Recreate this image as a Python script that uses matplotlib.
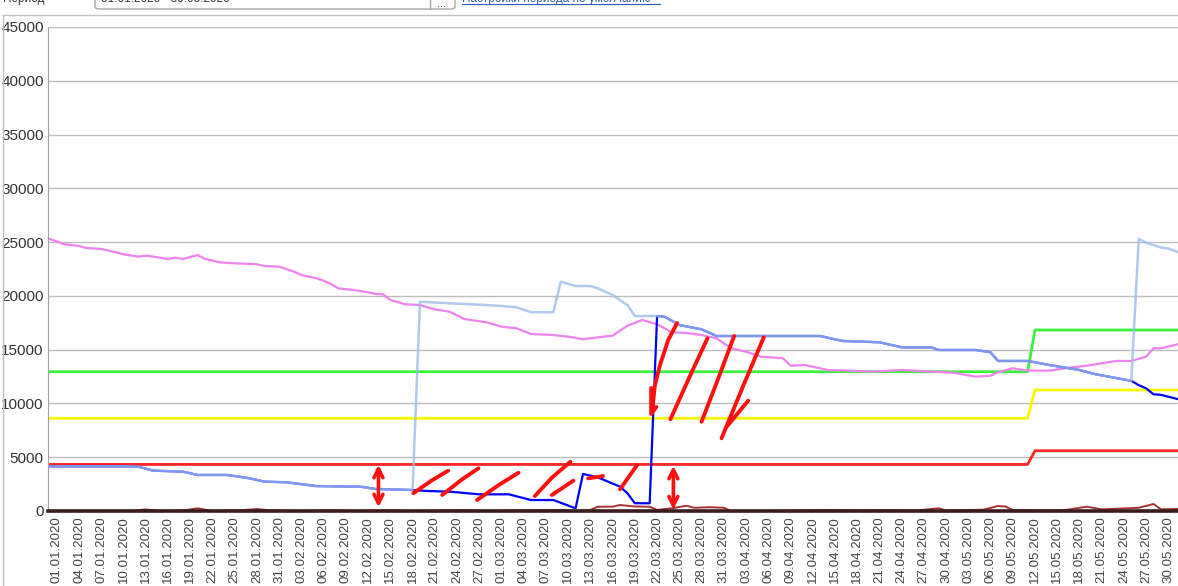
import numpy as np
import pandas as pd
import matplotlib
matplotlib.use("Agg")
import matplotlib.pyplot as plt
from matplotlib.lines import Line2D
from matplotlib.patches import FancyBboxPatch

plt.rcParams['font.family'] = ['Liberation Sans', 'DejaVu Sans']

# --- данные (день от 01.01.2020, значение) ---
START = -1.2      # левый край графика
END = 151.3       # правый край (картинка обрезана)

dates = pd.date_range('2020-01-01', '2020-05-30')
tick_days = np.arange(0, len(dates), 3)
tick_labels = [dates[i].strftime('%d.%m.%Y') for i in tick_days]

y_ticks = list(range(0, 45001, 5000))

# общие участки голубой и синей линий
common_early_days = [START, 10, 11, 13, 17, 19, 23, 26, 28, 31, 35, 41, 43, 48]
common_early_vals = [4150, 4150, 4120, 3750, 3660, 3350, 3350, 3040, 2730, 2670, 2320, 2260, 2050, 1950]
common_late_days = [81, 82, 84, 87, 89, 103, 106, 111, 114, 118, 119, 124, 126, 127, 131, 134, 138, 140, 145]
common_late_vals = [18130, 18070, 17290, 16890, 16270, 16270, 15810, 15690, 15220, 15220, 14970, 14970,
                    14760, 13950, 13950, 13570, 13110, 12740, 12100]

lightblue_mid_days = [49, 53, 58, 60, 62, 64, 67, 68, 70, 72, 73, 75, 77, 78, 80]
lightblue_mid_vals = [19460, 19310, 19150, 19060, 18940, 18480, 18480, 21320, 20920, 20920, 20700,
                      20080, 19150, 18130, 18130]
lightblue_tail_days = [146, 147, 149, 150, 152]
lightblue_tail_vals = [25300, 24950, 24500, 24400, 23900]

blue_mid_days = [50, 53, 57, 61, 64, 67, 70, 71, 73, 76, 77, 78, 80]
blue_mid_vals = [1860, 1800, 1550, 1550, 1020, 1020, 250, 3440, 3130, 2260, 1650, 720, 720]
blue_tail_days = [146, 147, 148, 149, 151, 152]
blue_tail_vals = [11700, 11400, 10850, 10800, 10450, 10300]

pink_days = [START, 1, 3, 4, 6, 8, 9, 11, 12, 13, 15, 16, 17, 19, 20, 22, 24, 27, 28, 30, 32, 33, 35, 36,
             37, 38, 40, 42, 43, 44, 45, 47, 49, 50, 51, 53, 55, 58, 60, 62, 64, 67, 69, 71, 73, 75, 77,
             79, 81, 83, 85, 87, 89, 91, 93, 95, 98, 99, 101, 104, 107, 110, 114, 117, 121, 124, 126,
             127, 129, 131, 134, 136, 139, 143, 145, 147, 148, 149, 151, 152]
pink_vals = [25350, 24800, 24640, 24450, 24360, 24050, 23870, 23650, 23740, 23650, 23430, 23550, 23430,
             23800, 23430, 23120, 23030, 22940, 22780, 22720, 22250, 21940, 21640, 21410, 21100, 20700,
             20550, 20330, 20180, 20150, 19620, 19220, 19150, 18940, 18750, 18530, 17850, 17540, 17140,
             16990, 16460, 16360, 16210, 15970, 16150, 16300, 17230, 17760, 17360, 16620, 16550, 16360,
             16060, 15130, 14810, 14350, 14200, 13510, 13570, 13110, 13050, 12950, 13110, 13000, 12860,
             12490, 12580, 12900, 13270, 13050, 13050, 13270, 13510, 13950, 13950, 14350, 15130, 15130,
             15450, 15600]

level_days = [START, 131, 132, 152]
green_vals = [12950, 12950, 16830, 16830]
yellow_vals = [8620, 8620, 11250, 11250]
red_vals = [4330, 4330, 5600, 5600]

darkred_days = [START, 10, 12, 14, 17, 19, 21, 25, 27, 29, 33, 37, 40, 45, 48, 55, 58, 62, 68, 70, 72, 73,
                75, 76, 78, 80, 81, 83, 85, 86, 88, 90, 91, 95, 100, 104, 108, 112, 116, 119, 120, 125,
                127, 128, 129, 133, 136, 139, 141, 146, 148, 149, 152]
darkred_vals = [0, 0, 150, 0, 50, 250, 0, 80, 180, 50, 0, 60, 0, 60, 0, 80, 0, 50, 100, 0, 100, 400, 400,
                560, 420, 400, 100, 250, 490, 300, 350, 300, 0, 0, 40, 100, 60, 80, 50, 250, 50, 120, 460,
                420, 100, 50, 80, 400, 150, 300, 650, 150, 200]

# красные пометки от руки: (дни, значения)
scribbles = [
    ([48.1, 50.5, 52.8], [1650, 2800, 3750]),
    ([52.0, 54.6, 56.9], [1490, 2900, 3970]),
    ([56.7, 59.6, 62.3], [1020, 2400, 3560]),
    ([64.5, 66.8, 69.3], [1390, 3100, 4580]),
    ([66.8, 69.7], [1490, 2820]),
    ([71.7, 73.7], [3040, 3250]),
    ([76.0, 78.3], [2020, 4280]),
    ([80.3, 80.7, 81.4, 82.5, 83.7], [9080, 11680, 13580, 15900, 17480]),
    ([80.2, 80.2, 80.9], [11440, 9020, 9670]),
    ([82.8, 85.4, 87.8], [8530, 12500, 16060]),
    ([87.0, 89.3, 91.4], [8300, 12400, 16270]),
    ([89.7, 92.6, 95.4], [6760, 11600, 16150]),
    ([90.4, 93.3], [7840, 10260]),
]
arrows = [(43.4, 350, 4300), (83.2, 150, 4200)]

lightblue_days = common_early_days + lightblue_mid_days + common_late_days + lightblue_tail_days
lightblue_vals = common_early_vals + lightblue_mid_vals + common_late_vals + lightblue_tail_vals
blue_days = common_early_days + blue_mid_days + common_late_days + blue_tail_days
blue_vals = common_early_vals + blue_mid_vals + common_late_vals + blue_tail_vals

# --- рисуем ---
fig = plt.figure(figsize=(11.78, 5.86), dpi=100)
ax = fig.add_axes([48 / 1178, 1 - 511 / 586, 1 - 48 / 1178, 484 / 586])

ax.plot(level_days, green_vals, color='#3DF03D', lw=2)
ax.plot(level_days, yellow_vals, color='#F8F800', lw=2)
ax.plot(level_days, red_vals, color='#FF2424', lw=2)
ax.plot(pink_days, pink_vals, color='#EE82EE', lw=1.6)
ax.plot(blue_days, blue_vals, color='#0000FF', lw=1.6)
ax.plot(lightblue_days, lightblue_vals, color='#9DBDEA', lw=1.8, alpha=0.8)
ax.plot(darkred_days, darkred_vals, color='#A83232', lw=1.4)
ax.plot([START, END], [0, 0], color='#3A1C1C', lw=2.6, clip_on=False, zorder=5)

for xs, ys in scribbles:
    ax.plot(xs, ys, color='#FF1010', lw=2.8, solid_capstyle='round', solid_joinstyle='round', zorder=6)
for d, v0, v1 in arrows:
    ax.annotate('', xy=(d, v1), xytext=(d, v0),
                arrowprops=dict(arrowstyle='<->', color='#FF1010', lw=2.6, mutation_scale=16,
                                shrinkA=0, shrinkB=0), zorder=6)

ax.set_xlim(START, END)
ax.set_ylim(0, 45000)
ax.set_yticks(y_ticks)
ax.set_yticklabels([str(v) for v in y_ticks], fontsize=11, color='#333333')
ax.set_xticks(tick_days)
ax.set_xticklabels(tick_labels, rotation=90, fontsize=9.6, color='#444444')
ax.tick_params(length=0, pad=4)
ax.tick_params(axis='y', pad=3)
ax.grid(axis='y', color='#BDBDBD', lw=1)
ax.set_axisbelow(True)
ax.spines['right'].set_visible(False)
ax.spines['top'].set_color('#BDBDBD')
ax.spines['left'].set_color('#A0A0A0')
ax.spines['bottom'].set_visible(False)

# рамка и шапка формы (сверху обрезана, как на скриншоте)
fig.add_artist(Line2D([3 / 1178, 1], [1 - 15 / 586, 1 - 15 / 586], color='#C0C0C0', lw=1))
fig.add_artist(Line2D([3 / 1178, 3 / 1178], [0, 1 - 15 / 586], color='#C0C0C0', lw=1))
fig.text(3 / 1178, 1 + 1 / 586, 'Период', fontsize=8.5, color='#333333', va='center')
fig.add_artist(FancyBboxPatch((95 / 1178, 1 - 9 / 586), 360 / 1178, 20 / 586,
                              boxstyle='round,pad=0,rounding_size=0.004', fc='white', ec='#A8A8A8', lw=1))
fig.add_artist(Line2D([430 / 1178, 430 / 1178], [1 - 9 / 586, 1], color='#A8A8A8', lw=1))
fig.text(101 / 1178, 1 + 1 / 586, '01.01.2020 - 30.05.2020', fontsize=8.5, color='#333333', va='center')
fig.text(442 / 1178, 1 - 4 / 586, '...', fontsize=8, color='#333333', ha='center', va='center')
fig.text(462 / 1178, 1 + 1 / 586, 'Настройки периода по умолчанию', fontsize=8.5, color='#2A5DB0',
         va='center')
fig.add_artist(Line2D([462 / 1178, 660 / 1178], [1 - 4 / 586, 1 - 4 / 586], color='#2A5DB0', lw=0.8))

fig.savefig('out.png', dpi=100)
